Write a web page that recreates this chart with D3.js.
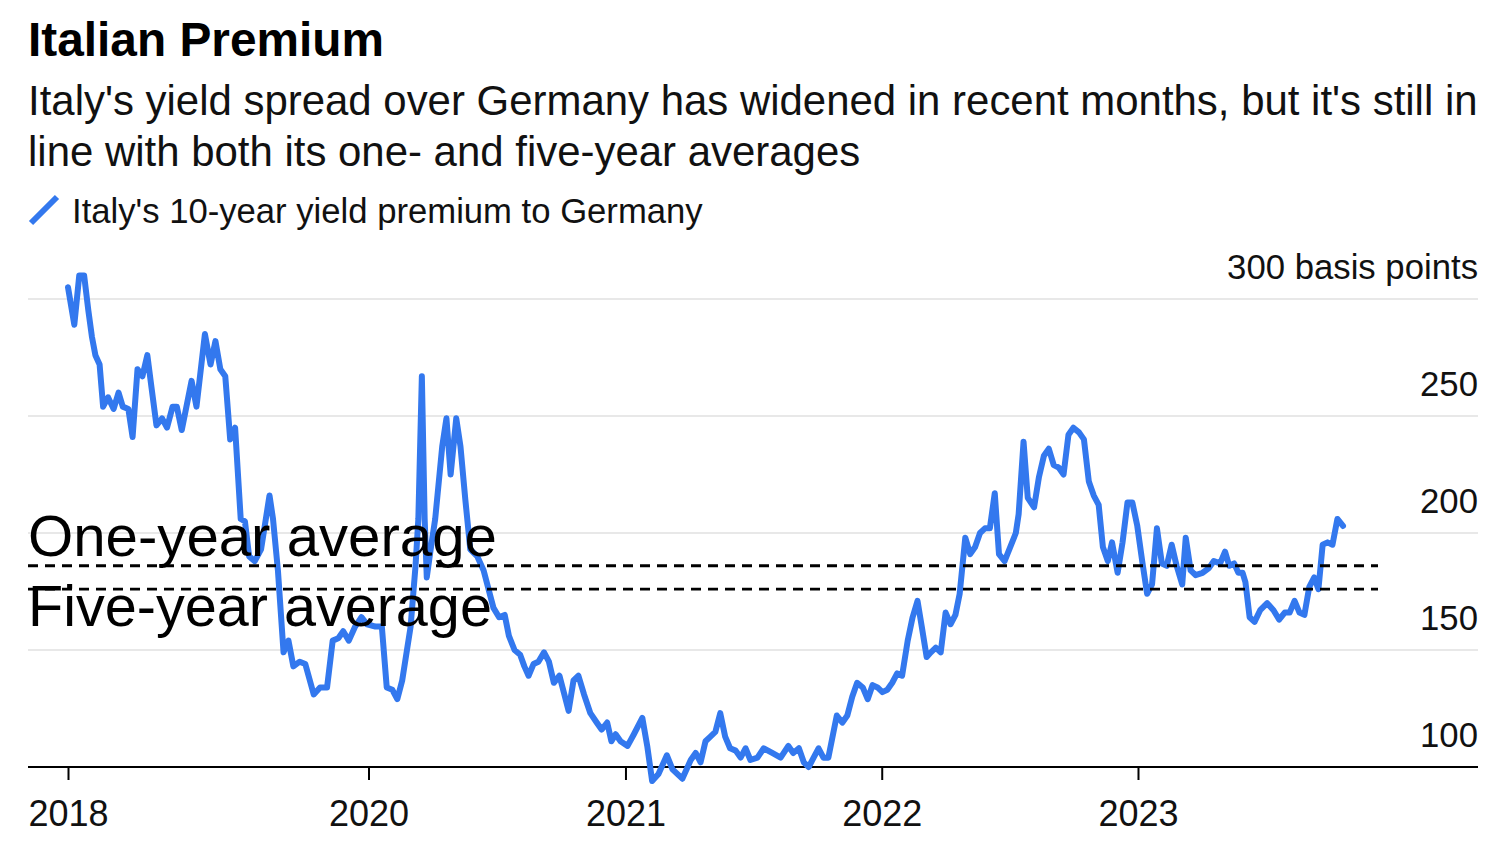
<!DOCTYPE html>
<html>
<head>
<meta charset="utf-8">
<script src="https://cdn.jsdelivr.net/npm/d3@7"></script>
<style>
  html, body { margin: 0; padding: 0; background: #fff; }
  svg { display: block; font-family: "Liberation Sans", Arial, Helvetica, sans-serif; }
</style>
</head>
<body>
<svg id="chart" width="1500" height="850"></svg>
<script>
// ---------------- DATA ----------------
const dates = [
"2018-10-30","2018-11-08","2018-11-15","2018-11-22","2018-11-28","2018-12-03","2018-12-08","2018-12-14","2018-12-19","2018-12-26",
"2019-01-03","2019-01-10","2019-01-16","2019-01-24","2019-01-30","2019-02-06","2019-02-13","2019-02-20","2019-02-26","2019-03-05",
"2019-03-13","2019-03-20","2019-03-28","2019-04-03","2019-04-10","2019-04-24","2019-05-01","2019-05-13","2019-05-21","2019-05-28",
"2019-06-04","2019-06-11","2019-06-18","2019-06-25","2019-07-03","2019-07-09","2019-07-15","2019-07-23","2019-08-01","2019-08-13",
"2019-08-18","2019-08-25","2019-09-02","2019-09-09","2019-09-16","2019-09-25","2019-10-03","2019-10-15","2019-10-24","2019-11-03",
"2019-11-11","2019-11-19","2019-11-26","2019-12-04","2019-12-13","2019-12-22","2019-12-30",
"2020-01-11","2020-01-20","2020-01-27","2020-02-04","2020-02-11","2020-02-18","2020-03-01","2020-03-08","2020-03-12","2020-03-17","2020-03-21","2020-03-24","2020-03-30",
"2020-04-05","2020-04-15","2020-04-21","2020-04-27","2020-05-05","2020-05-11","2020-05-18","2020-05-25","2020-06-04","2020-06-13","2020-06-20","2020-06-27",
"2020-07-05","2020-07-13","2020-07-19","2020-07-27","2020-08-04","2020-08-10","2020-08-16","2020-08-23","2020-08-30","2020-09-07","2020-09-14","2020-09-21","2020-09-29",
"2020-10-06","2020-10-12","2020-10-19","2020-10-26","2020-11-03","2020-11-12","2020-11-21","2020-11-28","2020-12-06","2020-12-12","2020-12-18","2020-12-25",
"2021-01-04","2021-01-13","2021-01-25","2021-02-01","2021-02-08","2021-02-17","2021-03-01","2021-03-09","2021-03-23","2021-04-04","2021-04-11","2021-04-18","2021-04-25",
"2021-05-02","2021-05-09","2021-05-16","2021-05-23","2021-05-30","2021-06-07","2021-06-14","2021-06-21","2021-06-28","2021-07-08","2021-07-17","2021-07-29",
"2021-08-10","2021-08-21","2021-08-28","2021-09-05","2021-09-12","2021-09-19","2021-09-26","2021-10-03","2021-10-10","2021-10-17","2021-10-29",
"2021-11-06","2021-11-13","2021-11-20","2021-11-27","2021-12-05","2021-12-12","2021-12-19","2021-12-26",
"2022-01-02","2022-01-09","2022-01-16","2022-01-23","2022-01-30","2022-02-07","2022-02-14","2022-02-21","2022-02-27","2022-03-06","2022-03-12","2022-03-19","2022-03-26",
"2022-04-02","2022-04-09","2022-04-16","2022-04-22","2022-04-30","2022-05-07","2022-05-14","2022-05-21","2022-05-28","2022-06-04","2022-06-11","2022-06-17","2022-06-25",
"2022-07-03","2022-07-11","2022-07-15","2022-07-22","2022-07-28","2022-08-06","2022-08-13","2022-08-20","2022-08-27","2022-09-03","2022-09-10","2022-09-17","2022-09-24",
"2022-10-01","2022-10-09","2022-10-16","2022-10-23","2022-10-30","2022-11-06","2022-11-12","2022-11-19","2022-11-25","2022-12-03","2022-12-10","2022-12-17","2022-12-24","2022-12-31",
"2023-01-07","2023-01-14","2023-01-21","2023-01-28","2023-02-04","2023-02-11","2023-02-18","2023-02-25","2023-03-05","2023-03-10","2023-03-17","2023-03-24",
"2023-04-03","2023-04-12","2023-04-19","2023-04-28","2023-05-05","2023-05-11","2023-05-18","2023-05-24","2023-05-30","2023-06-03","2023-06-09","2023-06-16","2023-06-24",
"2023-07-04","2023-07-13","2023-07-21","2023-07-29","2023-08-05","2023-08-12","2023-08-19","2023-08-26","2023-09-02","2023-09-09","2023-09-15","2023-09-21","2023-09-28",
"2023-10-05","2023-10-12","2023-10-20"
];
const spread = [
305,289,310,310,295,284,276,272,254,258,
253,260,254,253,241,270,267,276,262,246,
249,245,254,254,244,265,254,285,272,282,
270,267,240,245,206,205,190,188,193,216,
206,184,149,154,143,145,144,131,134,134,
154,155,158,154,160,164,161,
160,160,134,133,129,137,160,186,206,267,206,181,194,
206,237,249,225,249,237,214,193,190,184,176,168,
164,165,156,150,148,143,139,144,145,149,145,136,139,
131,124,137,139,131,123,119,116,119,111,114,111,
109,114,121,109,94,97,105,99,95,103,106,102,111,
113,115,123,113,108,107,104,108,103,104,108,106,
104,109,106,108,102,100,104,108,104,104,122,
119,122,130,136,134,129,135,134,
132,133,136,140,139,154,164,171,160,147,149,151,149,
166,161,165,174,198,191,194,200,202,202,217,191,188,
194,200,208,239,215,211,224,233,236,229,228,225,242,
245,243,240,222,216,212,194,188,196,183,196,213,213,203,
188,174,178,202,187,186,195,186,178,198,184,182,
183,185,188,187,192,186,187,183,183,179,164,162,167,
170,167,163,166,166,171,166,165,177,181,176,195,196,
195,206,203
];
const averages = [
  { label: "One-year average", value: 186 },
  { label: "Five-year average", value: 176 }
];
const yTicks = [100, 150, 200, 250, 300];
const xTickDates = ["2018-10-30", "2020-01-01", "2021-01-01", "2022-01-01", "2023-01-01"];
const xTickLabels = ["2018", "2020", "2021", "2022", "2023"];

const titleText = "Italian Premium";
const subtitleLines = [
  "Italy's yield spread over Germany has widened in recent months, but it's still in",
  "line with both its one- and five-year averages"
];
const legendText = "Italy's 10-year yield premium to Germany";
const unitText = "basis points";

// ---------------- LAYOUT ----------------
const parse = d3.timeParse("%Y-%m-%d");
const data = dates.map((d, i) => ({ date: parse(d), value: spread[i] }));

const left = 28, right = 1478;
const lineColor = "#3378ee";
const svg = d3.select("#chart");

const x = d3.scaleTime()
  .domain([parse(dates[0]), parse(dates[dates.length - 1])])
  .range([68, 1343]);
const y = d3.scaleLinear().domain([100, 300]).range([767, 299]);

function fit(sel, w) {
  const l = sel.node().getComputedTextLength();
  const fs = parseFloat(sel.attr("font-size"));
  sel.attr("font-size", fs * w / l);
  return fs * w / l;
}

// Title & subtitle
fit(svg.append("text").attr("x", left).attr("y", 56).attr("font-size", 46)
  .attr("font-weight", "bold").attr("fill", "#000").text(titleText), 356);

const sub1 = svg.append("text").attr("x", left).attr("y", 115)
  .attr("font-size", 38).attr("fill", "#111").text(subtitleLines[0]);
const subFs = fit(sub1, 1450);
svg.append("text").attr("x", left).attr("y", 166)
  .attr("font-size", subFs).attr("fill", "#111").text(subtitleLines[1]);

// Legend
svg.append("line").attr("x1", 31).attr("y1", 223).attr("x2", 57).attr("y2", 197)
  .attr("stroke", lineColor).attr("stroke-width", 6).attr("stroke-linecap", "butt");
fit(svg.append("text").attr("x", 72).attr("y", 223).attr("font-size", 32)
  .attr("fill", "#111").text(legendText), 631);

// Gridlines
svg.append("g").selectAll("line").data(yTicks.filter(v => v > 100)).join("line")
  .attr("x1", left).attr("x2", right)
  .attr("y1", d => y(d)).attr("y2", d => y(d))
  .attr("stroke", "#e8e8e8").attr("stroke-width", 2);

// Y labels
const ylab = svg.append("g").selectAll("text").data(yTicks).join("text")
  .attr("x", right).attr("y", d => y(d) - 20)
  .attr("text-anchor", "end").attr("font-size", 35).attr("fill", "#111")
  .text(d => d === 300 ? d + " " + unitText : d);
{
  const top = ylab.filter(d => d === 300);
  const fs = fit(top, 251);
  ylab.attr("font-size", fs);
}

// X axis
const xAxis = d3.axisBottom(x)
  .tickValues(xTickDates.map(parse))
  .tickSize(13)
  .tickPadding(20)
  .tickFormat((d, i) => xTickLabels[i]);
const gx = svg.append("g").attr("transform", `translate(0,${y(100)})`).call(xAxis);
gx.select(".domain").remove();
gx.selectAll(".tick line").attr("stroke", "#000").attr("stroke-width", 2);
gx.selectAll(".tick text").attr("font-size", 36).attr("fill", "#111")
  .attr("font-family", "Liberation Sans, Arial, sans-serif");
svg.append("line").attr("x1", left).attr("x2", right)
  .attr("y1", y(100)).attr("y2", y(100)).attr("stroke", "#000").attr("stroke-width", 2);

// Main line
const line = d3.line().x(d => x(d.date)).y(d => y(d.value)).curve(d3.curveLinear);
svg.append("path").datum(data).attr("d", line)
  .attr("fill", "none").attr("stroke", lineColor).attr("stroke-width", 6)
  .attr("stroke-linejoin", "round").attr("stroke-linecap", "round");

// Average lines
svg.append("g").selectAll("line").data(averages).join("line")
  .attr("x1", left).attr("x2", 1378)
  .attr("y1", d => y(d.value)).attr("y2", d => y(d.value))
  .attr("stroke", "#000").attr("stroke-width", 2.8).attr("stroke-dasharray", "10,7");

// Average labels
const labelW = [469, 464];
svg.append("g").selectAll("text").data(averages).join("text")
  .attr("x", left)
  .attr("y", (d, i) => i === 0 ? y(d.value) - 10 : y(d.value) + 37)
  .attr("font-size", 52).attr("fill", "#000")
  .text(d => d.label)
  .each(function(d, i) { fit(d3.select(this), labelW[i]); });
</script>
</body>
</html>
